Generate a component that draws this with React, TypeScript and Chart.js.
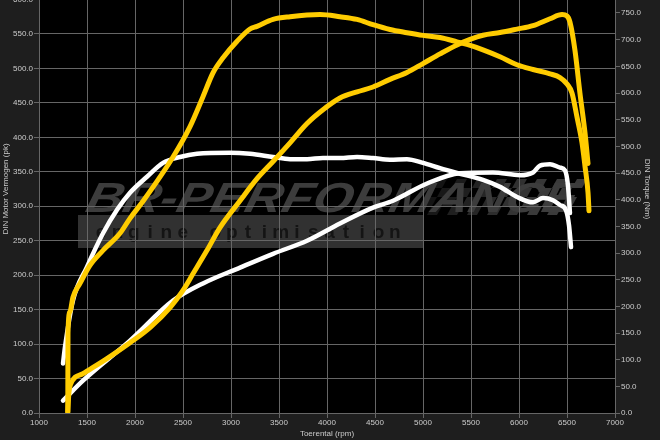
import React, { useEffect, useRef } from "react";
import { Chart, registerables } from "chart.js";
Chart.register(...registerables);

// ---- data ----
const tunedTorqueRpm = [1300,1302,1323,1354,1427,1531,1667,1844,1948,2083,2396,2573,2708,2813,2917,3063,3198,3271,3438,3615,3927,4135,4313,4479,4656,4833,5000,5177,5354,5458,5625,5802,5979,6146,6323,6427,6500,6552,6604,6656,6688,6719,6729];
const tunedTorqueNm = [2,150,190,217,243,277,305,337,365,397,480,537,593,638,666,697,720,725,738,743,747,743,738,728,719,713,708,704,696,691,681,668,653,644,636,629,617,600,555,507,462,413,379];

const tunedPowerRpm = [1300,1312,1330,1458,1708,1948,2156,2365,2500,2604,2750,2885,3094,3271,3438,3615,3792,3958,4135,4313,4479,4656,4833,5000,5177,5354,5490,5625,5802,5979,6146,6323,6448,6500,6531,6583,6635,6688,6719];
const tunedPowerPk = [2,30,42,57,79,102,124,153,178,202,236,269,308,340,365,392,420,440,457,466,473,484,494,507,521,534,542,548,552,557,562,572,578,576,567,526,464,406,362];

const stockPowerRpm = [1250,1458,1948,2396,2708,3094,3438,3792,4135,4479,4688,5042,5385,5729,6010,6146,6219,6323,6427,6479,6510,6531];
const stockPowerPk = [18,47,105,163,188,211,231,250,275,298,308,333,348,349,345,349,359,361,356,352,330,290];

const stockTorqueRpm = [1250,1271,1354,1500,1667,1813,1948,2125,2292,2469,2646,2990,3198,3438,3615,3792,3958,4135,4313,4479,4656,4833,5000,5177,5354,5625,5802,5979,6146,6250,6354,6427,6490,6521,6542];
const stockTorqueNm = [93,124,211,274,337,381,413,443,469,480,486,488,486,480,476,476,478,478,480,478,475,476,469,459,450,437,424,405,395,403,399,390,380,352,311];

const xTitle = "Toerental (rpm)";
const leftTitle = "DIN Motor Vermogen (pk)";
const rightTitle = "DIN Torque (Nm)";
const watermarkTitle = "BR-PERFORMANCE";
const watermarkSub = "engine optimisation";

const X_MIN = 1000, X_MAX = 7000, X_STEP = 500;
const PK_MAX = 650, NM_MAX = 840, Y_STEP = 50;

// ---- styling ----
const OFFSET = 35;
const GRID = "#666666";
const TEXT = "#cccccc";
const FONT = { family: "'Liberation Sans', Arial, sans-serif", size: 8 };
const YELLOW = "#FFCC00";

const mk = (xs: number[], ys: number[]) => xs.map((x, i) => ({ x, y: ys[i] }));

const bgPlugin = {
  id: "bgWatermark",
  beforeDraw(chart: any) {
    const { ctx, chartArea: a, width, height } = chart;
    ctx.save();
    ctx.fillStyle = "#1e1e1e";
    ctx.fillRect(0, 0, width, height);
    ctx.fillStyle = "#000";
    ctx.fillRect(a.left, a.top, a.right - a.left, a.bottom - a.top);
    ctx.beginPath();
    ctx.rect(a.left, a.top, a.right - a.left, a.bottom - a.top);
    ctx.clip();
    const oy = OFFSET;
    // bar
    ctx.fillStyle = "#313131";
    ctx.fillRect(78, 215 + oy, 345, 33);
    // checkered flag
    for (let i = 0; i < 15; i++) {
      for (let j = 0; j < 4; j++) {
        if ((i + j) % 2 !== 0) continue;
        const x0 = 432 + i * 10 - j * 5;
        const y0 = 214 + j * 9;
        ctx.globalAlpha = Math.min(1, 0.35 + i * 0.06);
        ctx.fillStyle = "#3a3a3a";
        ctx.beginPath();
        ctx.moveTo(x0 + 5, y0);
        ctx.lineTo(x0 + 15, y0);
        ctx.lineTo(x0 + 10, y0 + 9);
        ctx.lineTo(x0, y0 + 9);
        ctx.closePath();
        ctx.fill();
      }
    }
    ctx.globalAlpha = 1;
    // big logo text
    ctx.fillStyle = "#3c3c3c";
    ctx.font = "italic bold 42px 'Liberation Sans', Arial, sans-serif";
    ctx.textBaseline = "alphabetic";
    ctx.textAlign = "left";
    const w = ctx.measureText(watermarkTitle).width;
    ctx.save();
    ctx.translate(84, 212 + oy);
    ctx.transform(490 / w, 0, -0.25, 1, 0, 0);
    ctx.fillText(watermarkTitle, 0, 0);
    ctx.restore();
    // subtitle
    ctx.fillStyle = "#141414";
    ctx.font = "bold 19px 'Liberation Sans', Arial, sans-serif";
    ctx.textAlign = "center";
    const chars = watermarkSub.split("");
    const step = 310 / chars.length;
    chars.forEach((c, i) => {
      ctx.fillText(c, 93 + step * i + step / 2, 238 + oy);
    });
    ctx.restore();
  },
};

export default function App() {
  const ref = useRef<HTMLCanvasElement | null>(null);
  useEffect(() => {
    if (!ref.current) return;
    const common = {
      pointRadius: 0,
      fill: false,
      cubicInterpolationMode: "monotone" as const,
      borderCapStyle: "round" as const,
      borderJoinStyle: "round" as const,
    };
    const chart = new Chart(ref.current, {
      type: "line",
      data: {
        datasets: [
          { ...common, label: "Tuned torque", data: mk(tunedTorqueRpm, tunedTorqueNm), yAxisID: "y1", borderColor: YELLOW, borderWidth: 5 },
          { ...common, label: "Tuned power", data: mk(tunedPowerRpm, tunedPowerPk), yAxisID: "y", borderColor: YELLOW, borderWidth: 5 },
          { ...common, label: "Stock torque", data: mk(stockTorqueRpm, stockTorqueNm), yAxisID: "y1", borderColor: "#ffffff", borderWidth: 4.5 },
          { ...common, label: "Stock power", data: mk(stockPowerRpm, stockPowerPk), yAxisID: "y", borderColor: "#ffffff", borderWidth: 4.5 },
        ],
      },
      options: {
        responsive: false,
        animation: false,
        layout: { padding: 0 },
        plugins: { legend: { display: false }, tooltip: { enabled: false } },
        scales: {
          x: {
            type: "linear",
            min: X_MIN,
            max: X_MAX,
            ticks: { stepSize: X_STEP, color: TEXT, font: FONT, padding: 0, maxRotation: 0, autoSkip: false, callback: (v: any) => String(v) },
            grid: { color: GRID, tickLength: 5, tickColor: GRID },
            border: { color: GRID },
            title: { display: true, text: xTitle, color: TEXT, font: FONT, padding: { top: 1, bottom: 1 } },
            afterFit: (s: any) => { s.height = 27; },
          },
          y: {
            position: "left",
            min: 0,
            max: PK_MAX,
            ticks: { stepSize: Y_STEP, color: TEXT, font: FONT, padding: 1, callback: (v: any) => Number(v).toFixed(1) },
            grid: { color: GRID, tickLength: 5, tickColor: GRID },
            border: { color: GRID },
            title: { display: true, text: leftTitle, color: TEXT, font: FONT, padding: { top: 1, bottom: 0 } },
            afterFit: (s: any) => { s.width = 39; s.paddingTop = 0; s.paddingBottom = 0; },
          },
          y1: {
            position: "right",
            min: 0,
            max: NM_MAX,
            ticks: { stepSize: Y_STEP, color: TEXT, font: FONT, padding: 1, callback: (v: any) => Number(v).toFixed(1) },
            grid: { drawOnChartArea: false, color: GRID, tickLength: 5, tickColor: GRID },
            border: { color: GRID },
            title: { display: true, text: rightTitle, color: TEXT, font: FONT, padding: { top: 8, bottom: 0 } },
            afterFit: (s: any) => { s.width = 45; s.paddingTop = 0; s.paddingBottom = 0; },
          },
        },
      },
      plugins: [bgPlugin],
    } as any);
    return () => chart.destroy();
  }, []);
  return (
    <div style={{ position: "fixed", left: 0, top: -OFFSET, width: 660, height: 440 + OFFSET, background: "#1e1e1e" }}>
      <canvas ref={ref} width={660} height={440 + OFFSET} style={{ display: "block" }} />
    </div>
  );
}
